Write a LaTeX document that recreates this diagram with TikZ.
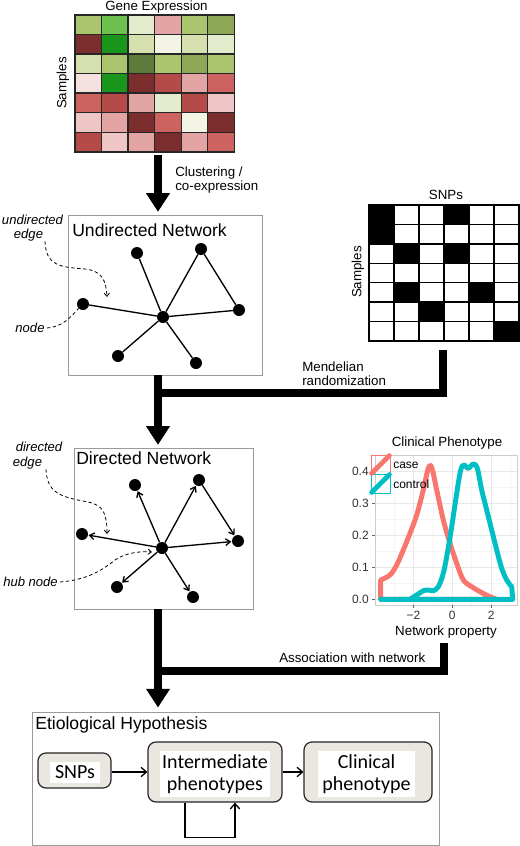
\documentclass[tikz,border=0pt]{standalone}
\usepackage{fontspec}
\setmainfont{Liberation Sans}
\newfontfamily\carlito{Carlito}
\usetikzlibrary{arrows.meta,fit,calc}
\definecolor{hG1}{HTML}{1A961C}
\definecolor{hG2}{HTML}{6EC04F}
\definecolor{hO1}{HTML}{ABC56E}
\definecolor{hO2}{HTML}{8CA756}
\definecolor{hO3}{HTML}{5F7B3C}
\definecolor{hP1}{HTML}{D5E0AE}
\definecolor{hPA}{HTML}{E3EBCD}
\definecolor{hP2}{HTML}{F3F4E3}
\definecolor{hM}{HTML}{7C2D2D}
\definecolor{hR}{HTML}{B54B49}
\definecolor{hR2}{HTML}{CC6361}
\definecolor{hK}{HTML}{E3A4A4}
\definecolor{hL}{HTML}{EFC6C6}
\definecolor{hW}{HTML}{F6E1E1}
\definecolor{casecol}{HTML}{F8766D}
\definecolor{ctrlcol}{HTML}{00BFC4}
\definecolor{boxgray}{HTML}{E9E7E0}
\definecolor{framegray}{HTML}{9A9A9A}
\begin{document}
\begin{tikzpicture}[x=0.75pt,y=-0.75pt,
  lab/.style={font=\fontsize{10}{10.5}\selectfont, inner sep=0pt},
  itlab/.style={font=\fontsize{9.8}{11}\selectfont\itshape, inner sep=0pt},
  title/.style={font=\fontsize{13.2}{15}\selectfont, inner sep=0pt, anchor=west},
  dot/.style={circle, fill=black, inner sep=0pt, minimum size=9pt},
  uedge/.style={line width=1pt},
  dedge/.style={line width=1pt, -{Straight Barb[length=3.5pt,width=5pt]}, shorten >=0.3pt},
  anno/.style={line width=0.6pt, dash pattern=on 2.5pt off 2pt},
  annoarr/.style={anno, -{Straight Barb[length=2.5pt,width=4pt]}},
  netbox/.style={draw=framegray, line width=0.7pt, inner sep=0pt},
  bigline/.style={line width=6pt},
  bigarrow/.style={line width=6pt, -{Triangle[width=17pt,length=14pt]}},
  graybox/.style={draw=black!85, fill=boxgray, rounded corners=6pt, line width=0.9pt, inner sep=0pt},
  whitebox/.style={fill=white, inner sep=0pt, align=center, font=\carlito\fontsize{15}{17}\selectfont},
  arr/.style={line width=1pt, -{Straight Barb[length=4pt,width=7pt]}},
  gridmaj/.style={draw=black!9, line width=0.5pt},
  gridmin/.style={draw=black!4, line width=0.4pt},
  ticklab/.style={font=\fontsize{9}{10}\selectfont, text=black!80, inner sep=0pt},
  curve/.style={line width=3.7pt, line join=round, line cap=round}
]
\useasboundingbox (0,0) rectangle (520,846);
\fill[white] (0,0) rectangle (520,846);

% ---------------- Gene expression heatmap
\node[lab] (getitle) at (156.5,7) {Gene Expression};
\node[lab, rotate=90] (gesamp) at (63,83) {Samples};
\foreach \rowl [count=\r] in {{hO1,hG2,hPA,hK,hO1,hO2},{hM,hG1,hP1,hP2,hP1,hPA},{hP1,hO1,hO3,hO1,hO2,hO1},{hW,hG1,hM,hR,hK,hR2},{hR2,hR,hK,hPA,hR,hL},{hL,hK,hM,hR2,hP2,hM},{hR,hL,hK,hM,hK,hR2}}{
  \foreach \cc [count=\c] in \rowl {
    \fill[\cc] ({75+(\c-1)*26.55},{15+(\r-1)*19.53}) rectangle ++(26.55,19.53);
  }
}
\foreach \i in {1,...,5} \draw[line width=1pt, black!85] ({75+\i*26.55},15) -- ({75+\i*26.55},151.7);
\foreach \j in {1,...,6} \draw[line width=1pt, black!85] (75,{15+\j*19.53}) -- (234.3,{15+\j*19.53});
\node[fit={(75,15) (234.3,151.7)}, draw=black!85, line width=1.2pt, inner sep=0pt] (hm) {};

% ---------------- arrow to undirected network
\node[netbox, fit={(68,215) (262,375)}] (ubox) {};
\coordinate (a1top) at (158,155);
\draw[bigarrow, shorten >=2pt] (a1top) -- (ubox.north -| a1top);
\node[lab, anchor=west, align=left] (clus) at (175,180) {Clustering /\\co-expression};

% ---------------- Undirected network
\node[title] (utitle) at (72,230) {Undirected Network};
\node[dot] (u1) at (137,253) {};
\node[dot] (u2) at (201,249) {};
\node[dot] (u3) at (83,304) {};
\node[dot] (uh) at (163,317) {};
\node[dot] (u4) at (239,310) {};
\node[dot] (u5) at (118,356) {};
\node[dot] (u6) at (196,363) {};
\foreach \t in {u1,u2,u3,u4,u5,u6} \draw[uedge] (uh) -- (\t);
\draw[uedge] (u2) -- (u4);
\node[itlab] (lundir) at (32.5,220) {undirected};
\node[itlab] (ledge1) at (28.5,235) {edge};
\coordinate (ue1) at (107,297);
\draw[annoarr] (ledge1.south -| 45,0) .. controls (46,266) and (60,267) .. (85,269) .. controls (102,271) and (106,280) .. (ue1);
\node[itlab] (lnode) at (30,328) {node};
\draw[anno] (lnode.east) ++(2,0) .. controls (62,327) and (70,318) .. (u3.south west);

% ---------------- SNPs grid
\node[lab] (snptitle) at (446,195) {SNPs};
\node[lab, rotate=90] (snpsamp) at (358,272) {Samples};
\foreach \c/\r in {1/1,4/1,1/2,2/3,4/3,2/5,5/5,3/6,6/7}
  \fill ({369+(\c-1)*25},{205+(\r-1)*19.43}) rectangle ++(25,19.43);
\foreach \i in {1,...,5} \draw[line width=1pt] ({369+\i*25},205) -- ({369+\i*25},341);
\foreach \j in {1,...,6} \draw[line width=1pt] (369,{205+\j*19.43}) -- (519,{205+\j*19.43});
\node[fit={(369,205) (519,341)}, draw, line width=1.1pt, inner sep=0pt] (snpg) {};

% ---------------- Mendelian randomization junction
\coordinate (snpb) at (443,350);
\coordinate (j1) at (158,393);
\node[netbox, fit={(74,448) (253,609)}] (dbox) {};
\draw[bigline] (snpb) |- (j1);
\draw[bigarrow, shorten >=2pt] (ubox.south -| j1) -- (dbox.north -| j1);
\node[lab, anchor=west, align=left] (mend) at (302,374) {Mendelian\\randomization};

% ---------------- Directed network
\node[title] (dtitle) at (76,458) {Directed Network};
\node[dot] (d1) at (135,485) {};
\node[dot] (d2) at (199,480) {};
\node[dot] (d3) at (82,534) {};
\node[dot] (dh) at (162,548) {};
\node[dot] (d4) at (238,541) {};
\node[dot] (d5) at (117,587) {};
\node[dot] (d6) at (193,597) {};
\foreach \t in {d1,d2,d3,d4,d5,d6} \draw[dedge] (dh) -- (\t);
\draw[dedge] (d2) -- (d4);
\node[itlab] (ldir) at (39,447) {directed};
\node[itlab] (ledge2) at (27.5,463) {edge};
\coordinate (de1) at (107,534);
\draw[annoarr] (ledge2.south -| 46,0) .. controls (47,494) and (62,497) .. (88,502) .. controls (104,505) and (107,515) .. (de1);
\node[itlab] (lhub) at (30.5,582) {hub node};
\coordinate (hubp) at (152,552);
\draw[annoarr] (lhub.east) ++(2,0) .. controls (85,580) and (100,572) .. (115,560) .. controls (125,553) and (140,551) .. (hubp);

% ---------------- Clinical phenotype plot
\node[lab] (cptitle) at (447,443) {Clinical Phenotype};
\foreach \d in {0.05,0.15,0.25,0.35} \draw[gridmin] (375,{599.3-320*\d}) -- (517,{599.3-320*\d});
\foreach \u in {-3,-1,1,3} \draw[gridmin] ({452.3+19.4*\u},455) -- ({452.3+19.4*\u},605);
\foreach \d in {0,0.1,0.2,0.3,0.4} \draw[gridmaj] (375,{599.3-320*\d}) -- (517,{599.3-320*\d});
\foreach \u in {-2,0,2} \draw[gridmaj] ({452.3+19.4*\u},455) -- ({452.3+19.4*\u},605);
\node[fit={(375,455) (517,605)}, draw=black!20, line width=0.5pt, inner sep=0pt] (panel) {};
\foreach \d/\t [count=\k] in {0/0.0,0.1/0.1,0.2/0.2,0.3/0.3,0.4/0.4}{
  \draw[black!60, line width=0.5pt] (372,{599.3-320*\d}) -- (375,{599.3-320*\d});
  \node[ticklab, anchor=east] (yl\k) at (369,{599.3-320*\d}) {\t};
}
\foreach \u/\t [count=\k] in {-2/{−2},0/0,2/2}{
  \draw[black!60, line width=0.5pt] ({452.3+19.4*\u},605) -- ({452.3+19.4*\u},608);
  \node[ticklab, anchor=north] (xl\k) at ({452.3+19.4*\u},611) {\t};
}
\node[lab] (netprop) at (446,632) {Network property};
\draw[curve, casecol] (380.7,599.3) -- plot[smooth, tension=0.55] coordinates {(380.7,580) (390,575) (396.7,565) (403.3,550) (410,533.3) (416.7,515) (423.3,490) (428.3,468.3) (431.7,467.5) (436.7,490) (443.3,520) (450,543.3) (456.7,563.3) (463.3,580) (471.7,586.7) (480,591.7) (488.3,596) (496.7,599.3)} -- cycle;
\draw[curve, ctrlcol] (380.7,599.3) -- (410,599.3) -- plot[smooth, tension=0.55] coordinates {(410,599.3) (416.7,595) (423.3,590.7) (428.3,590) (433.3,590.7) (438.3,586.7) (443.3,573.3) (447.3,553.3) (451.7,526.7) (456.7,493.3) (460.7,470) (464,465) (468.3,468.3) (473.3,464) (477.3,468.3) (481.7,490) (486.7,510) (491.7,530) (496.7,550) (501.7,568.3) (506.7,580) (511.7,586.7)} -- (512.7,599.3) -- cycle;
% legend
\node[fit={(371,455) (390,474)}, draw=casecol, line width=0.5pt, inner sep=0pt] (kcase) {};
\node[fit={(371,474) (390,493)}, draw=ctrlcol, line width=0.5pt, inner sep=0pt] (kctrl) {};
\draw[curve, casecol] ([shift={(1,-1)}]kcase.south west) -- ([shift={(-1,1)}]kcase.north east);
\draw[curve, ctrlcol] ([shift={(1,-1)}]kctrl.south west) -- ([shift={(-1,1)}]kctrl.north east);
\node[ticklab, anchor=west, text=black] (lcase) at (393,465) {case};
\node[ticklab, anchor=west, text=black] (lctrl) at (393,484) {control};

% ---------------- Association junction
\node[netbox, fit={(32,712) (439,845)}] (etio) {};
\coordinate (plotb) at (444,643);
\coordinate (j2) at (158,671);
\draw[bigline] (plotb) |- (j2);
\draw[bigarrow, shorten >=3pt] (dbox.south -| j2) -- (etio.north -| j2);
\node[lab, anchor=west] (assoc) at (279,658) {Association with network};

% ---------------- Etiological hypothesis
\node[title] (etitle) at (35,725) {Etiological Hypothesis};
\node[graybox, fit={(38,753) (111,788)}] (bsnp) {};
\node[whitebox, minimum width=37.5pt, minimum height=15.75pt] (bsnpt) at (75,772.5) {SNPs};
\node[graybox, fit={(148,742) (282,802)}] (binter) {};
\node[whitebox, minimum width=82.5pt, minimum height=34.5pt] (bintert) at (215,774) {Intermediate\\phenotypes};
\node[graybox, fit={(304,742) (432,802)}] (bclin) {};
\node[whitebox, minimum width=72.75pt, minimum height=34.5pt] (bclint) at (366.5,774) {Clinical\\phenotype};
\coordinate (ay) at (0,772);
\draw[arr] (bsnp.east |- ay) -- (binter.west |- ay);
\draw[arr] (binter.east |- ay) -- (bclin.west |- ay);
\draw[arr] ([xshift=-22.5pt]binter.south) -- ++(0,35) -| ([xshift=15pt]binter.south);
\end{tikzpicture}
\end{document}
